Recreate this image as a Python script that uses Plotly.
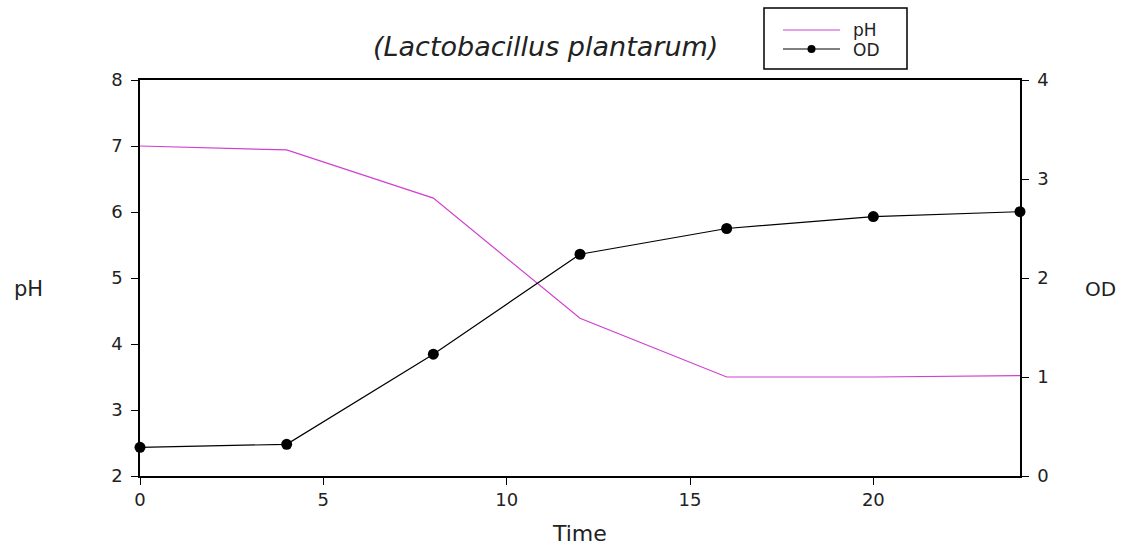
import plotly.graph_objects as go

# Fermentation time course of Lactobacillus plantarum
time_h = [0, 4, 8, 12, 16, 20, 24]
ph_values = [7.00, 6.94, 6.21, 4.39, 3.50, 3.50, 3.52]
od_values = [0.29, 0.32, 1.23, 2.24, 2.50, 2.62, 2.67]

ph_ticks = [2, 3, 4, 5, 6, 7, 8]
od_ticks = [0, 1, 2, 3, 4]
time_ticks = [0, 5, 10, 15, 20]

FONT = "DejaVu Sans, Liberation Sans, Arial, sans-serif"
TXT = "#222"
PH_COLOR = "#d040d0"

# plot box in pixels (used to convert decoration positions to paper coords)
L, R, T, B, W, H = 140, 104, 80, 70, 1124, 546
PW, PH_ = W - L - R, H - T - B


def px(x):
    return (x - L) / PW


def py(y):
    return 1 - (y - T) / PH_


fig = go.Figure()

fig.add_trace(go.Scatter(
    x=time_h, y=ph_values, name="pH", mode="lines",
    line=dict(color=PH_COLOR, width=1.2),
    yaxis="y", cliponaxis=False, showlegend=False,
))
fig.add_trace(go.Scatter(
    x=time_h, y=od_values, name="OD", mode="lines+markers",
    line=dict(color="black", width=1.2),
    marker=dict(color="black", size=11, symbol="circle"),
    yaxis="y2", cliponaxis=False, showlegend=False,
))

axis_common = dict(
    showgrid=False, zeroline=False, showline=True, linecolor="black",
    linewidth=1.5, ticks="outside", ticklen=7, tickcolor="black",
    tickwidth=1.2,
    tickfont=dict(family=FONT, size=18, color=TXT),
)

# legend box drawn as shapes/annotations
shapes = [
    dict(type="rect", xref="paper", yref="paper",
         x0=px(764), x1=px(907), y0=py(69), y1=py(8),
         line=dict(color="black", width=1.5), fillcolor="white"),
    dict(type="line", xref="paper", yref="paper",
         x0=px(783), x1=px(840), y0=py(30), y1=py(30),
         line=dict(color=PH_COLOR, width=1.2)),
    dict(type="line", xref="paper", yref="paper",
         x0=px(783), x1=px(840), y0=py(49), y1=py(49),
         line=dict(color="black", width=1.2)),
    dict(type="circle", xref="paper", yref="paper",
         x0=px(807.5), x1=px(815.5), y0=py(53), y1=py(45),
         line=dict(color="black", width=0), fillcolor="black"),
]

annotations = [
    dict(text="<i>(Lactobacillus plantarum)</i>", x=px(545), y=py(46),
         xref="paper", yref="paper", showarrow=False,
         xanchor="center", yanchor="middle",
         font=dict(family=FONT, size=27, color=TXT)),
    dict(text="pH", x=px(851), y=py(30), xref="paper", yref="paper",
         showarrow=False, xanchor="left", yanchor="middle",
         font=dict(family=FONT, size=17, color=TXT)),
    dict(text="OD", x=px(851), y=py(50), xref="paper", yref="paper",
         showarrow=False, xanchor="left", yanchor="middle",
         font=dict(family=FONT, size=17, color=TXT)),
    dict(text="Time", x=px(579), y=py(533), xref="paper", yref="paper",
         showarrow=False, xanchor="center", yanchor="middle",
         font=dict(family=FONT, size=22, color=TXT)),
    dict(text="pH", x=px(28), y=py(289), xref="paper", yref="paper",
         showarrow=False, xanchor="center", yanchor="middle",
         font=dict(family=FONT, size=21, color=TXT)),
    dict(text="OD", x=px(1100), y=py(289), xref="paper", yref="paper",
         showarrow=False, xanchor="center", yanchor="middle",
         font=dict(family=FONT, size=20, color=TXT)),
]

fig.update_layout(
    width=W, height=H,
    margin=dict(l=L, r=R, t=T, b=B),
    paper_bgcolor="white", plot_bgcolor="white",
    font=dict(family=FONT, color=TXT),
    showlegend=False,
    xaxis=dict(range=[0, 24], tickvals=time_ticks, mirror=True,
               ticklabelstandoff=0, **axis_common),
    yaxis=dict(range=[2, 8], tickvals=ph_ticks, ticklabelstandoff=5,
               **axis_common),
    yaxis2=dict(range=[0, 4], tickvals=od_ticks, overlaying="y", side="right",
                ticklabelstandoff=5, **axis_common),
    shapes=shapes,
    annotations=annotations,
)

fig.write_html("out.html")
